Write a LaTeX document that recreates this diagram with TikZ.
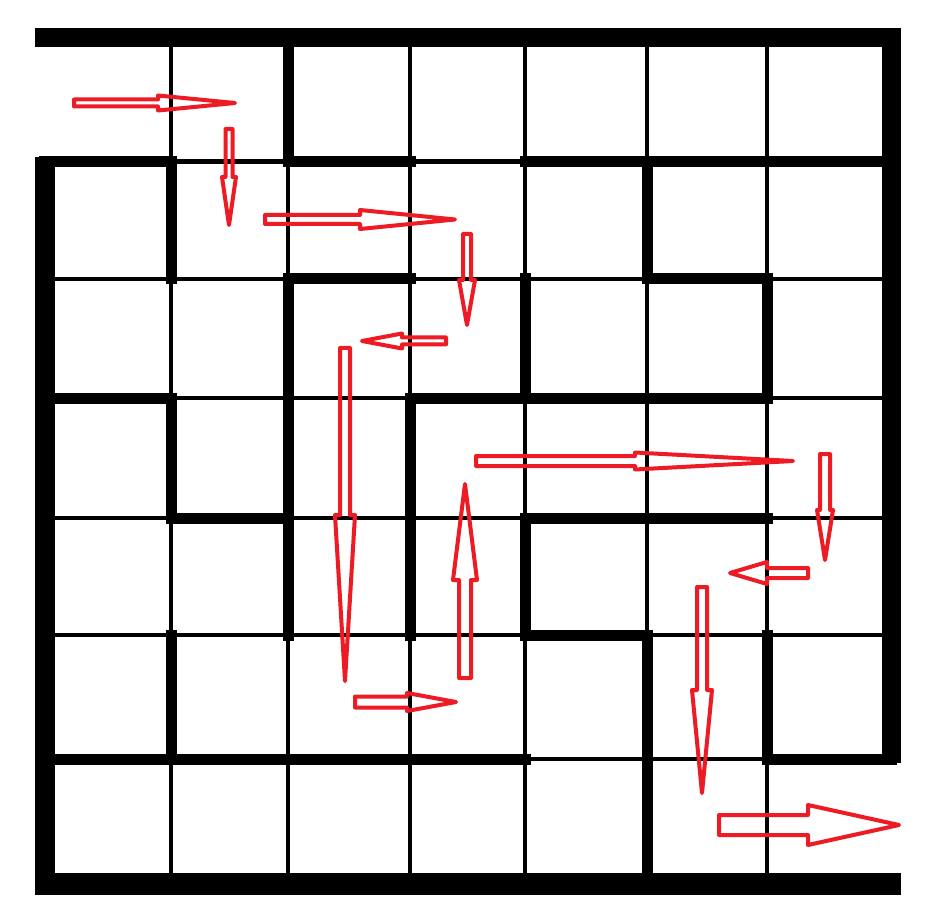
\documentclass[tikz,border=0pt]{standalone}
\definecolor{mazered}{RGB}{237,28,36}
\tikzset{
  thinline/.style={line width=4.5pt, black},
  wallseg/.style={line width=11pt, black, line cap=rect},
  hwall/.style={wallseg, yshift=-2.5pt},
  border/.style={fill=black},
  hollow/.style={draw=mazered, line width=4pt, line join=round, fill=none},
}
\newcommand{\mzArrH}[6]{\draw[hollow] (#2,#1-#5) -- (#3,#1-#5) -- (#3,#1-#6) -- (#4,#1) -- (#3,#1+#6) -- (#3,#1+#5) -- (#2,#1+#5) -- cycle;}
\newcommand{\mzArrV}[6]{\draw[hollow] (#1-#5,#2) -- (#1-#5,#3) -- (#1-#6,#3) -- (#1,#4) -- (#1+#6,#3) -- (#1+#5,#3) -- (#1+#5,#2) -- cycle;}
\begin{document}
\begin{tikzpicture}[x=1pt,y=-1pt]
\useasboundingbox (0,0) rectangle (930,920);
\fill[white] (0,0) rectangle (930,920);
% grid points p<column line><row line>
\foreach \i/\xx in {0/44.5,1/171,2/288,3/410,4/525,5/647,6/767,7/891.5}{
  \foreach \j/\yy in {0/37.5,1/161.5,2/279,3/398,4/518,5/635,6/759,7/884}{
    \coordinate (p\i\j) at (\xx,\yy);
  }
}
% thin grid lines
\foreach \i in {1,...,6}{\draw[thinline] (p\i0) -- (p\i7);}
\foreach \j in {1,...,6}{\draw[thinline] (p0\j) -- (p7\j);}
% thick horizontal walls
\draw[hwall] (p01) -- (p11);
\draw[hwall] (p21) -- (p31);
\draw[hwall] (p41) -- (p71);
\draw[hwall] (p22) -- (p32);
\draw[hwall] (p52) -- (p62);
\draw[hwall] (p03) -- (p13);
\draw[hwall] (p33) -- (p63);
\draw[hwall] (p14) -- (p24);
\draw[hwall] (p44) -- (p64);
\draw[hwall] (p45) -- (p55);
\draw[hwall] (p06) -- (p46);
\draw[hwall] (p66) -- (p76);
% thick vertical walls
\draw[wallseg] (p11) -- (p12);
\draw[wallseg] (p13) -- (p14);
\draw[wallseg] (p15) -- (p16);
\draw[wallseg] (p20) -- (p21);
\draw[wallseg] (p22) -- (p25);
\draw[wallseg] (p33) -- (p35);
\draw[wallseg] (p42) -- (p43);
\draw[wallseg] (p44) -- (p45);
\draw[wallseg] (p51) -- (p52);
\draw[wallseg] (p55) -- (p57);
\draw[wallseg] (p62) -- (p63);
\draw[wallseg] (p65) -- (p66);
% outer border
\path[border] (34.5,28) rectangle (901,47);
\path[border] (34.5,157) rectangle (54.5,895);
\path[border] (882,28) rectangle (901,763);
\path[border] (34.5,873) rectangle (901,895);
% red hollow arrows
\mzArrH{103}{74}{158}{235}{3.5}{7.5}
\mzArrV{229}{129}{177}{225}{3.5}{7}
\mzArrH{219.5}{265}{360}{455}{4.5}{9.5}
\mzArrV{467}{234}{280}{325}{4}{8}
\mzArrH{341}{446}{402}{362}{3.5}{7.5}
\mzArrV{345}{348}{515}{681}{5}{10}
\mzArrV{465}{678}{580}{484}{6}{12}
\mzArrH{702}{355}{407}{456}{5.5}{9}
\mzArrH{461}{476}{635}{793}{5}{8.5}
\mzArrV{825}{454}{510}{560}{5}{8}
\mzArrH{573}{808}{767}{730}{5}{11}
\mzArrV{702}{587}{690}{793}{5}{10}
\mzArrH{825}{719}{808}{899}{10}{20}
\end{tikzpicture}
\end{document}
